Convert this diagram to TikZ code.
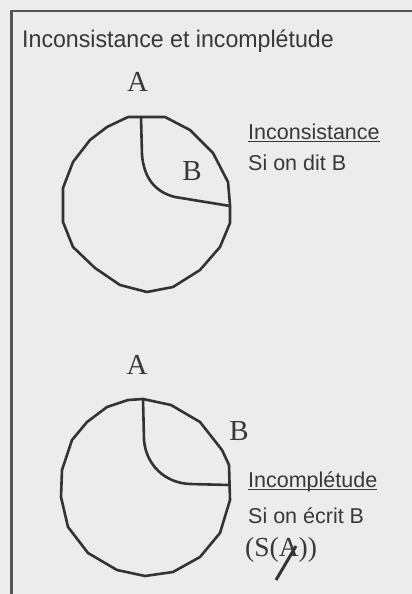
\documentclass[tikz,border=0pt]{standalone}
\usepackage{fontspec}
\setmainfont{Liberation Sans}
\newfontfamily\serifletters{Liberation Serif}
\definecolor{bgcol}{HTML}{ECECEC}
\definecolor{inkcol}{HTML}{333333}
\definecolor{txtcol}{HTML}{383838}
\definecolor{framecol}{HTML}{555555}
\begin{document}
\begin{tikzpicture}[x=1pt,y=-1pt,
  ink/.style={draw=inkcol,line width=2.6pt,line join=round,line cap=round},
  sanstxt/.style={inner sep=0pt,anchor=base west,text=txtcol,font=\fontsize{21.5}{24}\selectfont},
  titletxt/.style={inner sep=0pt,anchor=base west,text=txtcol,font=\fontsize{24}{28}\selectfont,xscale=0.965},
  letter/.style={inner sep=0pt,anchor=base,text=txtcol,font=\serifletters\fontsize{29}{32}\selectfont},
  seriftxt/.style={inner sep=0pt,anchor=base west,text=txtcol,font=\serifletters\fontsize{27.5}{30}\selectfont},
  uline/.style={draw=txtcol,line width=1.4pt}]
\useasboundingbox (0,0) rectangle (412,594);
\fill[bgcol] (0,0) rectangle (412,594);
\begin{scope}
\clip (0,0) rectangle (412,594);
\draw[framecol,line width=2.6pt] (420,11) -- (11.5,11) -- (11.5,600);
\end{scope}
% title
\node[titletxt] (title) at (22,47.5) {Inconsistance et incomplétude};
% panel 1
\draw[ink] (128,117) -- (165,117) -- (190,130) -- (213,153) -- (228,182) -- (230,205) -- (230,223) -- (220,247) -- (200,270) -- (173,287) -- (147,292) -- (120,285) -- (95,268) -- (73,247) -- (63,222) -- (63,188) -- (73,162) -- (90,140) -- (107,127) -- cycle;
\draw[ink] (141,117) -- (142,155) .. controls (144,178) and (155,192) .. (175,197) -- (230,206);
\node[letter] (a1) at (137.5,91) {A};
\node[letter] (b1) at (192,180) {B};
\node[sanstxt] (t1) at (248,139) {Inconsistance};
\draw[uline] ([yshift=-2.5pt]t1.base west) -- ([yshift=-2.5pt]t1.base east);
\node[sanstxt] (t2) at (248,170) {Si on dit B};
% panel 2
\draw[ink] (128,400) -- (143,399) -- (171,405) -- (200,422) -- (222,450) -- (229,465) -- (230,500) -- (220,533) -- (200,557) -- (173,572) -- (145,576) -- (117,570) -- (88,553) -- (68,527) -- (61,497) -- (62,470) -- (72,440) -- (87,422) -- (107,407) -- cycle;
\draw[ink] (143,399) -- (144,440) .. controls (146,465) and (165,483) .. (190,484) -- (229.5,485);
\node[letter] (a2) at (137,374) {A};
\node[letter] (b2) at (239,440) {B};
\node[sanstxt] (t3) at (248,487) {Incomplétude};
\draw[uline] ([yshift=-2.5pt]t3.base west) -- ([yshift=-2.5pt]t3.base east);
\node[sanstxt] (t4) at (248,523) {Si on écrit B};
\node[seriftxt] (t5) at (245,556) {(S(A))};
\coordinate (s1) at (276,580);
\coordinate (s2) at (296,546);
\draw[draw=inkcol,line width=3pt] (s1) -- (s2);
\end{tikzpicture}
\end{document}
